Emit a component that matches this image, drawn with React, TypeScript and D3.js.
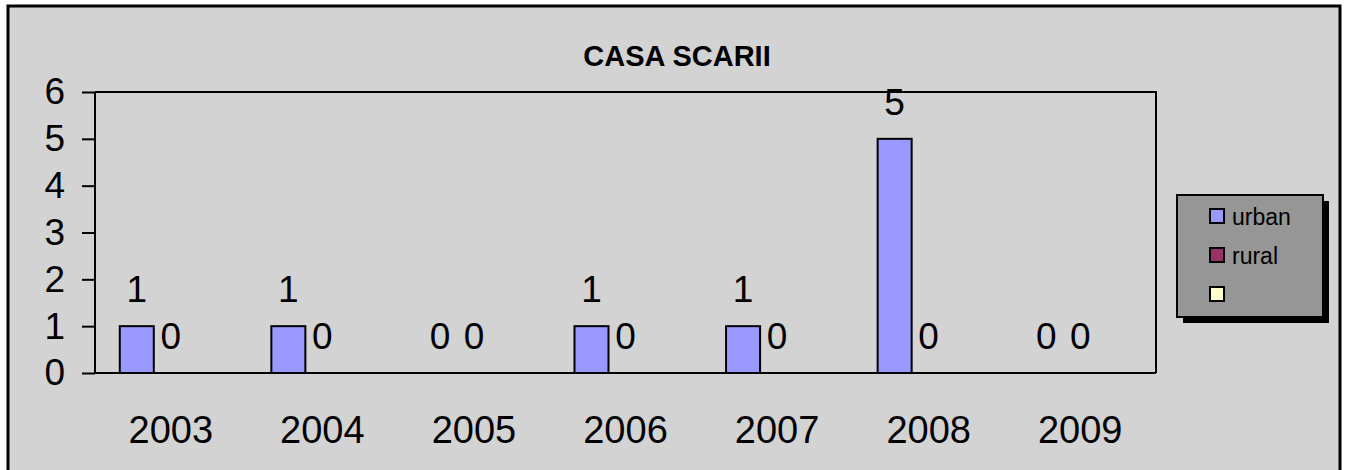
import * as d3 from "d3";
import { useEffect, useRef } from "react";

const years = ["2003", "2004", "2005", "2006", "2007", "2008", "2009"];
const urban = [1, 1, 0, 1, 1, 5, 0];
const rural = [0, 0, 0, 0, 0, 0, 0];
const seriesNames = ["urban", "rural", ""];
const seriesColors = ["#9999FF", "#993366", "#FFFFCC"];
const yTicks = [0, 1, 2, 3, 4, 5, 6];
const title = "CASA SCARII";

const width = 1345;
const height = 470;

const App = () => {
  const ref = useRef<SVGSVGElement | null>(null);

  useEffect(() => {
    if (!ref.current) return;
    const svg = d3.select(ref.current);
    svg.selectAll("*").remove();

    const font = "'Liberation Sans', Arial, sans-serif";
    const left = 95;
    const right = 1156;
    const top = 92;
    const bottom = 373;

    // outer chart frame
    svg
      .append("rect")
      .attr("x", 8)
      .attr("y", 6)
      .attr("width", 1332)
      .attr("height", 480)
      .attr("fill", "#D3D3D3")
      .attr("stroke", "black")
      .attr("stroke-width", 3);

    svg
      .append("text")
      .attr("x", 677)
      .attr("y", 66)
      .attr("text-anchor", "middle")
      .attr("font-family", font)
      .attr("font-weight", "bold")
      .attr("font-size", 29)
      .text(title);

    const x0 = d3
      .scaleBand<string>()
      .domain(years)
      .range([left, right])
      .paddingInner(0.327)
      .paddingOuter(0.1635);
    const x1 = d3
      .scaleBand<number>()
      .domain([0, 1, 2])
      .range([0, x0.bandwidth()]);
    const y = d3.scaleLinear().domain([0, 6]).range([bottom, top]);

    const g = svg.append("g");

    // plot border (top + right)
    g.append("path")
      .attr("d", `M${left},${top}H${right}V${bottom}`)
      .attr("fill", "none")
      .attr("stroke", "black")
      .attr("stroke-width", 2);

    // y axis
    const yAxis = g
      .append("g")
      .attr("transform", `translate(${left},0)`)
      .call(
        d3
          .axisLeft(y)
          .tickValues(yTicks)
          .tickSize(13)
          .tickPadding(17)
          .tickFormat(d3.format("d"))
      );
    yAxis.select(".domain").attr("stroke-width", 2).attr("d", `M0,${top}V${bottom}`);
    yAxis.selectAll(".tick line").attr("stroke-width", 2);
    yAxis
      .selectAll(".tick text")
      .attr("font-family", font)
      .attr("font-size", 37)
      .attr("fill", "black");

    // x axis
    const xAxis = g
      .append("g")
      .attr("transform", `translate(0,${bottom})`)
      .call(d3.axisBottom(x0).tickSize(0).tickPadding(43));
    xAxis.select(".domain").attr("stroke-width", 2).attr("d", `M${left},0H${right}`);
    xAxis
      .selectAll(".tick text")
      .attr("font-family", font)
      .attr("font-size", 38)
      .attr("fill", "black");

    const series = [urban, rural];
    series.forEach((vals, si) => {
      const rows = vals.map((value, i) => ({ year: years[i], value }));
      const grp = g.append("g");
      grp
        .selectAll("rect")
        .data(rows.filter((d) => d.value > 0))
        .join("rect")
        .attr("x", (d) => x0(d.year)! + x1(si)!)
        .attr("y", (d) => y(d.value))
        .attr("width", x1.bandwidth())
        .attr("height", (d) => y(0) - y(d.value))
        .attr("fill", seriesColors[si])
        .attr("stroke", "black")
        .attr("stroke-width", 2);

      grp
        .selectAll("text")
        .data(rows)
        .join("text")
        .attr("x", (d) => x0(d.year)! + x1(si)! + x1.bandwidth() / 2)
        .attr("y", (d) => y(d.value) - 24)
        .attr("text-anchor", "middle")
        .attr("font-family", font)
        .attr("font-size", 37)
        .text((d) => `${d.value}`);
    });

    // legend
    const lg = svg.append("g").attr("transform", "translate(1177,195)");
    lg.append("rect")
      .attr("x", 6)
      .attr("y", 6)
      .attr("width", 146)
      .attr("height", 122)
      .attr("fill", "black");
    lg.append("rect")
      .attr("width", 146)
      .attr("height", 122)
      .attr("fill", "#969696")
      .attr("stroke", "black")
      .attr("stroke-width", 2);

    const item = lg
      .selectAll("g.item")
      .data(seriesNames)
      .join("g")
      .attr("class", "item")
      .attr("transform", (_, i) => `translate(33,${14 + i * 39})`);
    item
      .append("rect")
      .attr("width", 14)
      .attr("height", 14)
      .attr("fill", (_, i) => seriesColors[i])
      .attr("stroke", "black")
      .attr("stroke-width", 2);
    item
      .append("text")
      .attr("x", 22)
      .attr("y", 16)
      .attr("font-family", font)
      .attr("font-size", 23)
      .text((d) => d);
  }, []);

  return (
    <svg
      ref={ref}
      width={width}
      height={height}
      style={{ position: "absolute", left: 0, top: 0, background: "white" }}
    />
  );
};

export default App;
